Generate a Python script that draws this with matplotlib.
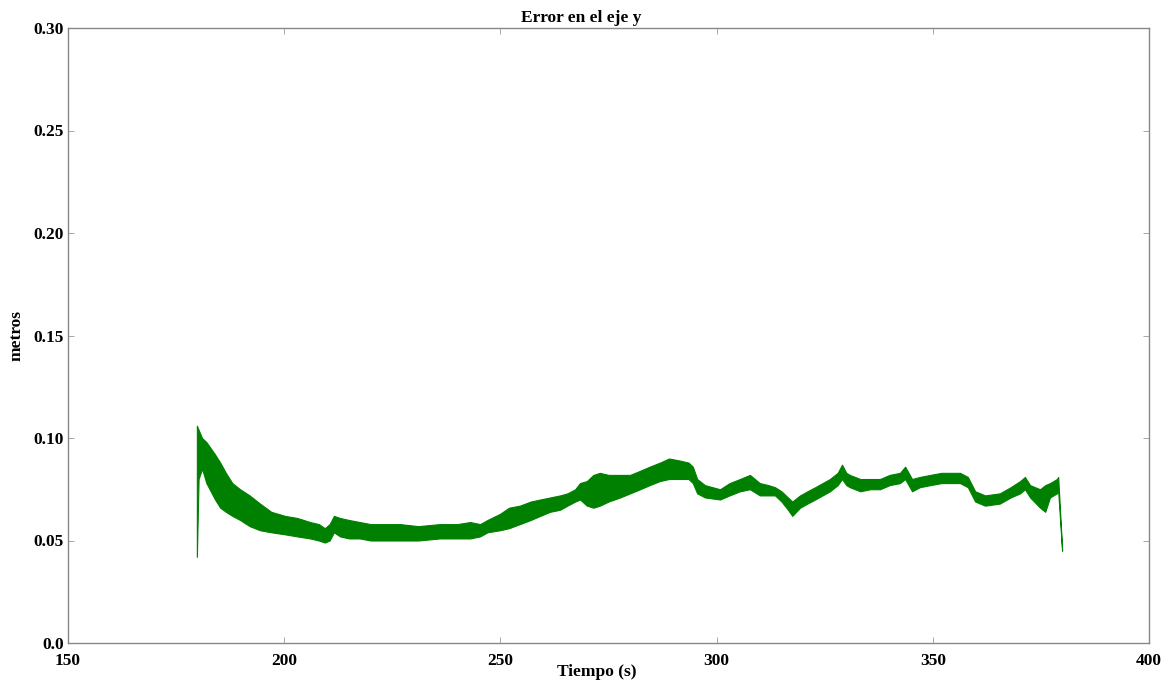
import matplotlib
matplotlib.use("Agg")
import matplotlib.pyplot as plt
import numpy as np

# Envelope of the noisy error signal (time s, lower / upper metres)
tiempo = [179.8, 180.2, 181.0, 182.0, 183.0, 184.0, 185.2, 186.5, 188.0, 189.8,
          192.0, 194.4, 197.0, 200.2, 203.0, 206.0, 208.0, 209.4, 210.5, 211.5,
          212.9, 215.0, 217.5, 220.0, 222.2, 226.8, 231.0, 236.0, 240.0, 243.0,
          245.3, 247.0, 249.9, 252.0, 254.5, 257.0, 259.2, 261.5, 263.8, 265.5,
          267.3, 268.4, 270.0, 271.5, 273.0, 275.0, 277.7, 280.0, 282.3, 284.5,
          286.9, 289.0, 291.5, 293.5, 294.5, 295.5, 297.3, 300.8, 303.0, 305.4,
          307.7, 310.0, 312.0, 313.5, 315.0, 316.5, 317.5, 319.3, 321.0, 322.8,
          324.5, 326.2, 328.0, 329.0, 330.0, 330.8, 333.2, 335.5, 337.8, 340.0,
          342.4, 343.6, 345.2, 347.0, 349.4, 352.0, 354.0, 356.3, 358.1, 359.8,
          362.1, 365.5, 368.0, 370.2, 371.3, 372.5, 374.8, 376.0, 377.1, 378.7,
          379.0, 379.9]
error_min = [0.042, 0.080, 0.085, 0.078, 0.074, 0.070, 0.066, 0.064, 0.062, 0.060,
             0.057, 0.055, 0.054, 0.053, 0.052, 0.051, 0.050, 0.049, 0.050, 0.054,
             0.052, 0.051, 0.051, 0.050, 0.050, 0.050, 0.050, 0.051, 0.051, 0.051,
             0.052, 0.054, 0.055, 0.056, 0.058, 0.060, 0.062, 0.064, 0.065, 0.067,
             0.069, 0.070, 0.067, 0.066, 0.067, 0.069, 0.071, 0.073, 0.075, 0.077,
             0.079, 0.080, 0.080, 0.080, 0.078, 0.073, 0.071, 0.070, 0.072, 0.074,
             0.075, 0.072, 0.072, 0.072, 0.069, 0.065, 0.062, 0.066, 0.068, 0.070,
             0.072, 0.074, 0.077, 0.080, 0.077, 0.076, 0.074, 0.075, 0.075, 0.077,
             0.078, 0.080, 0.074, 0.076, 0.077, 0.078, 0.078, 0.078, 0.076, 0.069,
             0.067, 0.068, 0.071, 0.073, 0.075, 0.071, 0.066, 0.064, 0.071, 0.073,
             0.074, 0.045]
error_max = [0.106, 0.104, 0.100, 0.098, 0.095, 0.092, 0.088, 0.083, 0.078, 0.075,
             0.072, 0.068, 0.064, 0.062, 0.061, 0.059, 0.058, 0.056, 0.058, 0.062,
             0.061, 0.060, 0.059, 0.058, 0.058, 0.058, 0.057, 0.058, 0.058, 0.059,
             0.058, 0.060, 0.063, 0.066, 0.067, 0.069, 0.070, 0.071, 0.072, 0.073,
             0.075, 0.078, 0.079, 0.082, 0.083, 0.082, 0.082, 0.082, 0.084, 0.086,
             0.088, 0.090, 0.089, 0.088, 0.086, 0.080, 0.077, 0.075, 0.078, 0.080,
             0.082, 0.078, 0.077, 0.076, 0.074, 0.071, 0.069, 0.072, 0.074, 0.076,
             0.078, 0.080, 0.083, 0.087, 0.083, 0.082, 0.080, 0.080, 0.080, 0.082,
             0.083, 0.086, 0.080, 0.081, 0.082, 0.083, 0.083, 0.083, 0.081, 0.074,
             0.072, 0.073, 0.076, 0.079, 0.081, 0.077, 0.075, 0.077, 0.078, 0.080,
             0.081, 0.046]

x_ticks = [150, 200, 250, 300, 350, 400]
y_ticks = [0.0, 0.05, 0.10, 0.15, 0.20, 0.25, 0.30]
y_ticklabels = ["0.0", "0.05", "0.10", "0.15", "0.20", "0.25", "0.30"]

plt.rcParams['font.family'] = ['Liberation Serif', 'DejaVu Serif']
plt.rcParams['font.weight'] = 'bold'

fig = plt.figure(figsize=(11.66, 6.84), dpi=100)
W, H = 1166, 684
left, right, top, bottom = 68, 1149, 28, 643
ax = fig.add_axes([left / W, 1 - bottom / H, (right - left) / W, (bottom - top) / H])

ax.fill_between(tiempo, error_min, error_max, color='#008000', linewidth=0.8,
                edgecolor='#008000')

ax.set_xlim(150, 400)
ax.set_ylim(0, 0.30)
ax.set_xticks(x_ticks)
ax.set_yticks(y_ticks)
ax.set_yticklabels(y_ticklabels)
ax.tick_params(direction='in', length=4, width=0.6, color='#999999',
               top=True, right=True, labelsize=12.5)
ax.tick_params(axis='x', pad=7)
ax.tick_params(axis='y', pad=3)
for lab in ax.get_xticklabels() + ax.get_yticklabels():
    lab.set_fontweight('bold')
for s in ax.spines.values():
    s.set_color('#888888')
    s.set_linewidth(1.0)

ax.set_title("Error en el eje y", fontsize=12.5, fontweight='bold', x=0.475, pad=4)
ax.set_xlabel("Tiempo (s)", fontsize=12.5, fontweight='bold')
ax.xaxis.set_label_coords(0.489, -0.034)
ax.set_ylabel("metros", fontsize=12.5, fontweight='bold')
ax.yaxis.set_label_coords(-0.0405, 0.5)

fig.savefig("out.png", dpi=100)
